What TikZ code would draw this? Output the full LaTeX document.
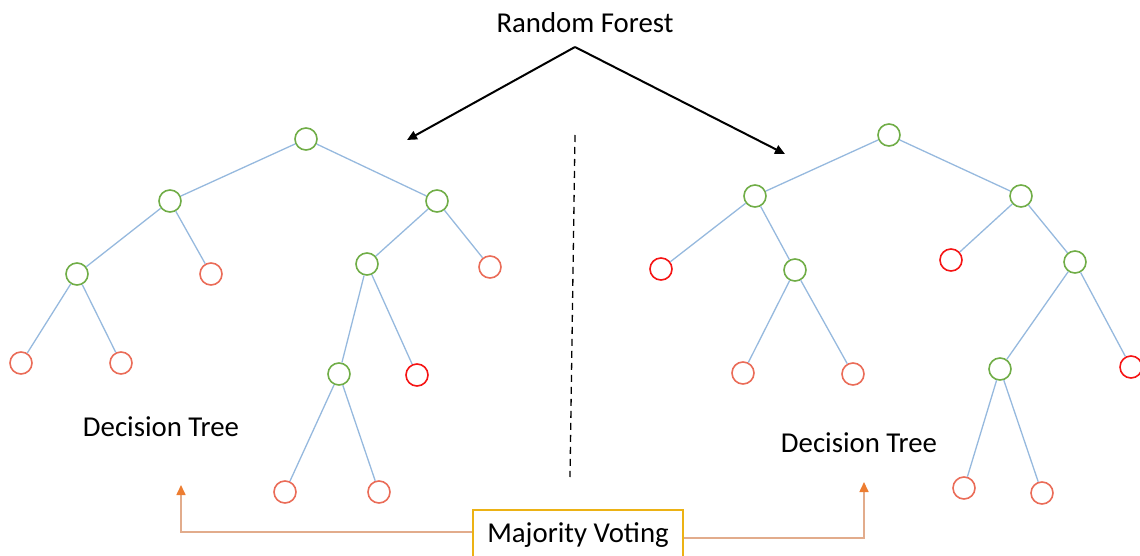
\documentclass[tikz,border=0pt]{standalone}
\usepackage{fontspec}
\setmainfont{Carlito}
\usetikzlibrary{arrows.meta}

\definecolor{leafgreen}{RGB}{112,173,71}
\definecolor{leafred}{RGB}{234,108,88}
\definecolor{purered}{RGB}{245,20,20}
\definecolor{edgeblue}{RGB}{150,185,222}
\definecolor{votegold}{RGB}{236,178,20}
\definecolor{voteline}{RGB}{226,172,140}
\definecolor{votetip}{RGB}{237,125,49}

\tikzset{
  tnode/.style={circle, draw, minimum size=22pt, inner sep=0pt, line width=1.6pt},
  inner/.style={tnode, draw=leafgreen},
  leaf/.style={tnode, draw=leafred},
  hotleaf/.style={tnode, draw=purered},
  edge/.style={draw=edgeblue, line width=1.3pt},
  label/.style={font=\fontsize{28.8}{34}\selectfont, inner sep=0pt},
  pointer/.style={draw=black, line width=2pt, -{Triangle[length=10pt,width=9pt]}},
  votebox/.style={draw=votegold, line width=1.6pt, fill=white, minimum width=210pt,
    minimum height=50pt, inner sep=0pt, font=\fontsize{28.8}{34}\selectfont},
  votearrow/.style={draw=voteline, line width=1.6pt,
    -{Triangle[length=10pt,width=9pt,color=votetip]}},
}

\begin{document}
\begin{tikzpicture}[x=1pt,y=-1pt]
\clip (0,0) rectangle (1140,556);

% title and the two pointers to the trees
\node[label] (title) at (585,23) {Random Forest};
\coordinate (apex) at (575,47);
\coordinate (ltip) at (407,140);
\coordinate (rtip) at (785,154);
\draw[pointer] (apex) -- (ltip);
\draw[pointer] (apex) -- (rtip);

% separator between the trees
\coordinate (sepTop) at (575,135);
\coordinate (sepBot) at (570,477);
\draw[black, line width=1.3pt, dash pattern=on 7pt off 5pt] (sepTop) -- (sepBot);

% first tree
\node[inner]   (L0)  at (306,139) {};
\node[inner]   (L1)  at (170,201) {};
\node[inner]   (L2)  at (437,201) {};
\node[inner]   (L3)  at (77,274) {};
\node[leaf]    (L4)  at (211,274) {};
\node[inner]   (L5)  at (367,264) {};
\node[leaf]    (L6)  at (490,267) {};
\node[leaf]    (L7)  at (21,363) {};
\node[leaf]    (L8)  at (121,363) {};
\node[inner]   (L9)  at (339,374) {};
\node[hotleaf] (L10) at (417,375) {};
\node[leaf]    (L11) at (285,492) {};
\node[leaf]    (L12) at (379,492) {};
\foreach \a/\b in {L0/L1,L0/L2,L1/L3,L1/L4,L2/L5,L2/L6,L3/L7,L3/L8,L5/L9,L5/L10,L9/L11,L9/L12}
  \draw[edge] (\a) -- (\b);

% second tree
\node[inner]   (R0)  at (889,135) {};
\node[inner]   (R1)  at (755,196) {};
\node[inner]   (R2)  at (1021,196) {};
\node[hotleaf] (R3)  at (661,269) {};
\node[inner]   (R4)  at (795,270) {};
\node[hotleaf] (R5)  at (951,260) {};
\node[inner]   (R6)  at (1075,262) {};
\node[leaf]    (R7)  at (743,373) {};
\node[leaf]    (R8)  at (853,374) {};
\node[inner]   (R9)  at (1000,369) {};
\node[hotleaf] (R10) at (1131,367) {};
\node[leaf]    (R11) at (964,488) {};
\node[leaf]    (R12) at (1042,493) {};
\foreach \a/\b in {R0/R1,R0/R2,R1/R3,R1/R4,R2/R5,R2/R6,R4/R7,R4/R8,R6/R9,R6/R10,R9/R11,R9/R12}
  \draw[edge] (\a) -- (\b);

% tree captions
\node[label] (capL) at (161,427) {Decision Tree};
\node[label] (capR) at (859,443) {Decision Tree};

% voting box and its two feedback arrows
\node[votebox] (mv) at (578,535) {Majority Voting};
\coordinate (voteL) at (181,485);
\coordinate (voteR) at (864,482);
\draw[votearrow] ([yshift=3pt]mv.west) -| (voteL);
\draw[votearrow] ([yshift=-3pt]mv.east) -| (voteR);
\end{tikzpicture}
\end{document}
